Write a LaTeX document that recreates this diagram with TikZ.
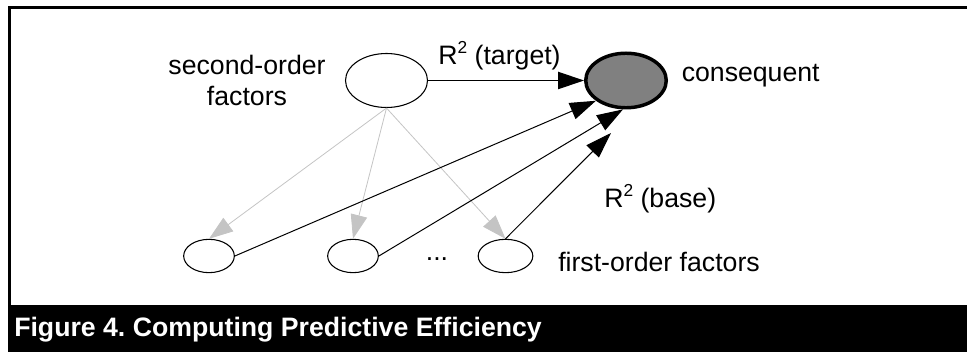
\documentclass[tikz,border=0pt]{standalone}
\usepackage{fontspec}
\setmainfont{Liberation Sans}
\usetikzlibrary{arrows.meta,shapes.geometric}
\frenchspacing

\begin{document}
\begin{tikzpicture}[x=0.75pt,y=-0.75pt,
  font=\fontsize{20}{23}\selectfont,
  factor/.style={ellipse,draw,line width=0.8pt,inner sep=0pt,
    minimum width=#1,minimum height=25pt},
  factor/.default=38pt,
  label/.style={inner sep=0pt},
  blk/.style={-{Triangle[length=19.5pt,width=13pt]},line width=0.75pt},
  gry/.style={draw=lightgrey,-{Triangle[length=18pt,width=12.5pt]},line width=0.6pt}]
\definecolor{lightgrey}{RGB}{196,196,196}
\definecolor{consgrey}{RGB}{128,128,128}

\useasboundingbox (0,0) rectangle (967,352);
\clip (0,0) rectangle (967,352);

% frame and caption band
\draw[line width=1.7pt] (9.5,400) -- (9.5,7.5) -- (1000,7.5);
\fill[black] (8.3,305) rectangle (1000,400);
\node[label,anchor=base west,text=white,font=\fontsize{20}{23}\selectfont\bfseries]
  (caption) at (14,337) {Figure 4. Computing Predictive Efficiency};

% nodes
\node[ellipse,draw,line width=0.8pt,inner sep=0pt,minimum width=61.5pt,
  minimum height=40.5pt] (s2) at (386.5,80.5) {};
\node[ellipse,draw,fill=consgrey,line width=2.6pt,inner sep=0pt,
  minimum width=60.4pt,minimum height=40.9pt] (cons) at (626,80.5) {};
\node[factor] (e1) at (209,256) {};
\node[factor] (e2) at (353,256) {};
\node[factor=41pt] (e3) at (505.5,256) {};
\coordinate (b3) at (611,133);

% labels
\newcommand{\sqr}{\raisebox{0.42em}{\fontsize{13}{13}\selectfont 2}}
\node[label,anchor=base] (sec1) at (247,75) {second-order};
\node[label,anchor=base] (sec2) at (247,106) {factors};
\node[label,anchor=base] (rt) at (499.5,65) {R\sqr\ (target)};
\node[label,anchor=base west] (conslab) at (681.5,82) {consequent};
\node[label,anchor=base west] (rb) at (604,208) {R\sqr\ (base)};
\node[label,anchor=base west] (fo) at (558,272) {first-order factors};
\node[label,anchor=base] (dots) at (437,261) {...};

% connectors
\draw[gry] (s2.south) -- (e1.north);
\draw[gry] (s2.south) -- (e2.north);
\draw[gry] (s2.south) -- (e3.north);
\draw[blk,line width=0.9pt] (s2.east) -- (cons.west);
\draw[blk] (e1.east) -- (cons.214);
\draw[blk] (e2.east) -- (cons.264);
\draw[blk] (e3.north) -- (b3);
\end{tikzpicture}
\end{document}
